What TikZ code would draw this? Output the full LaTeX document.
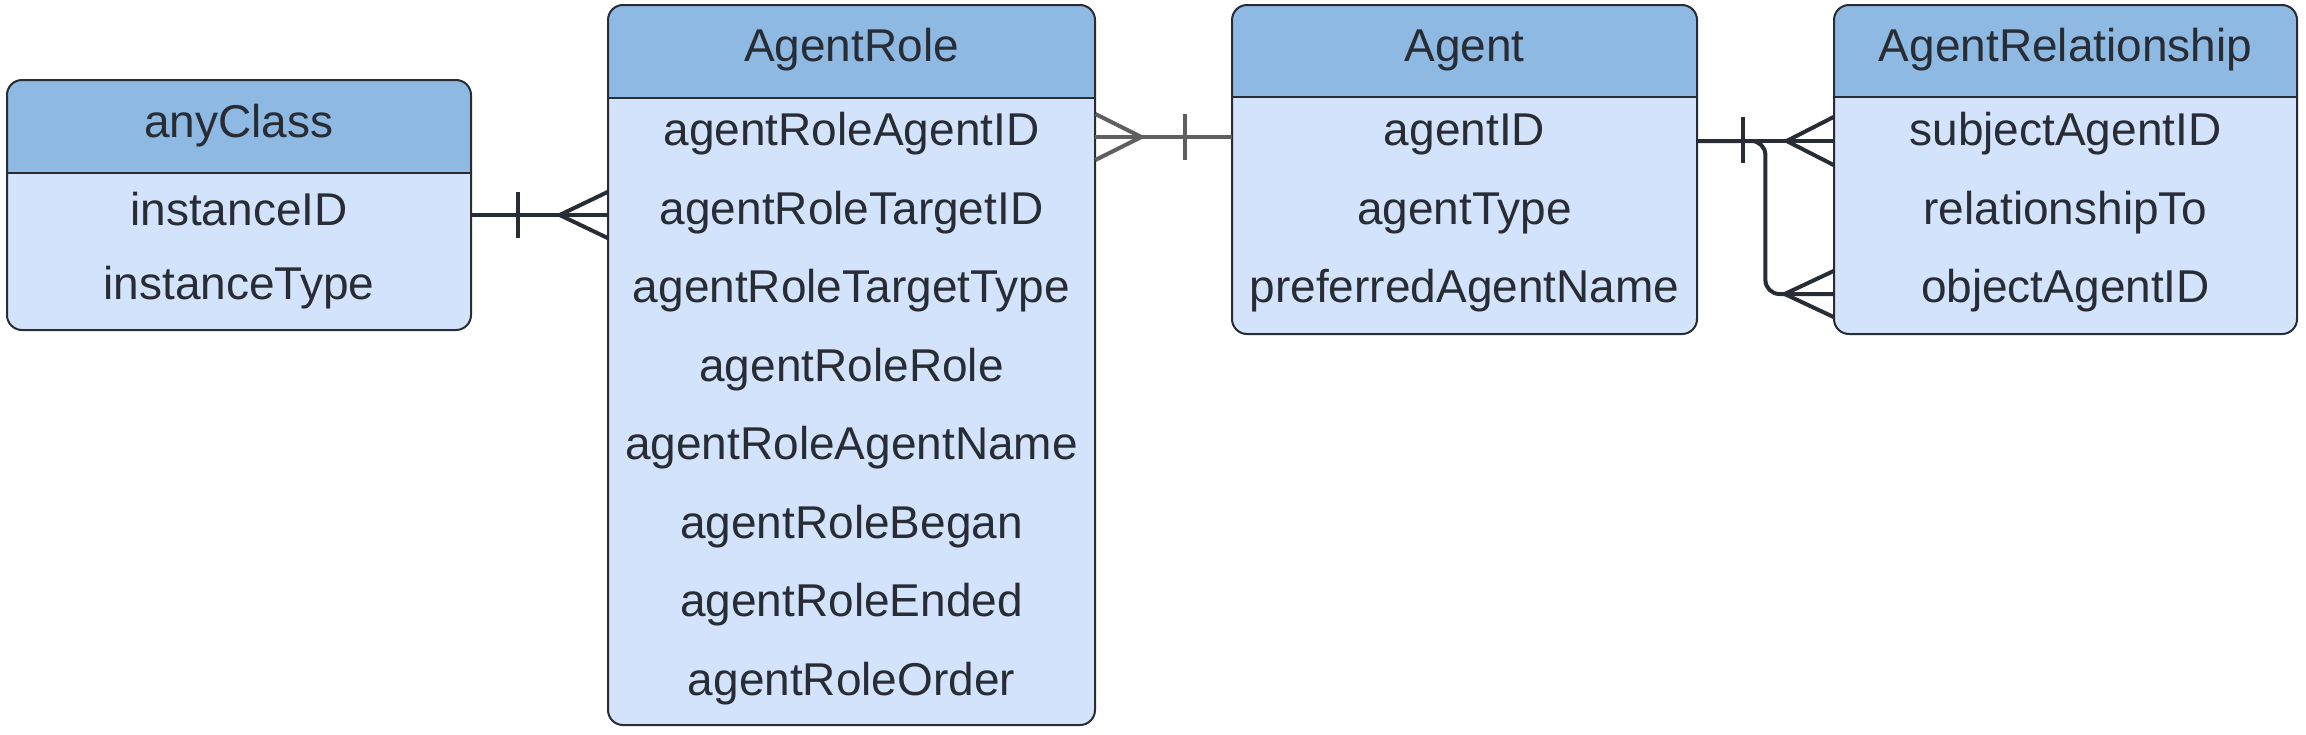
\documentclass[tikz,border=0pt]{standalone}
\usepackage{fontspec}
\setmainfont{Liberation Sans}
\usetikzlibrary{fit}
\definecolor{head}{RGB}{142,185,226}
\definecolor{body}{RGB}{210,227,251}
\definecolor{bord}{RGB}{40,44,52}
\definecolor{txt}{RGB}{40,44,52}
\definecolor{gconn}{RGB}{95,95,95}
\tikzset{
  ent/.style={draw=bord, line width=1pt, rounded corners=7.5pt},
  fld/.style={text=txt, font=\fontsize{23}{27}\selectfont, inner sep=0pt},
  conn/.style={line width=2pt, draw=txt},
  gconnst/.style={line width=2pt, draw=gconn},
}
\newcommand\erbox[6]{%
  \fill[body, rounded corners=7.5pt] (#2,#3) rectangle (#4,#5);
  \begin{scope}
    \clip[rounded corners=7.5pt] (#2,#3) rectangle (#4,#5);
    \fill[head] (#2,#3) rectangle (#4,#6);
  \end{scope}
  \draw[draw=bord, line width=1pt] (#2,#6) -- (#4,#6);
  \draw[ent] (#2,#3) rectangle (#4,#5);
  \node[fit={(#2,#3) (#4,#5)}, inner sep=0pt] (#1) {};
}
\begin{document}
\begin{tikzpicture}[x=0.5pt, y=-0.5pt]
\useasboundingbox (0,0) rectangle (2306,734);

% anyClass
\erbox{ac}{7}{80}{471}{330}{173}
\node[fld] (ach) at (239,126) {anyClass};
\node[fld] (ac1) at (239,209) {instanceID};
\node[fld] (ac2) at (239,288) {instanceType};

% AgentRole
\erbox{ar}{608}{5}{1095}{725}{98}
\node[fld] (arh) at (851.5,50) {AgentRole};
\node[fld] (ar1) at (851.5,134) {agentRoleAgentID};
\node[fld] (ar2) at (851.5,212.5) {agentRoleTargetID};
\node[fld] (ar3) at (851.5,291) {agentRoleTargetType};
\node[fld] (ar4) at (851.5,369.5) {agentRoleRole};
\node[fld] (ar5) at (851.5,448) {agentRoleAgentName};
\node[fld] (ar6) at (851.5,526.5) {agentRoleBegan};
\node[fld] (ar7) at (851.5,605) {agentRoleEnded};
\node[fld] (ar8) at (851.5,683.5) {agentRoleOrder};

% Agent
\erbox{ag}{1232}{5}{1697}{334}{97}
\node[fld] (agh) at (1464.5,50) {Agent};
\node[fld] (ag1) at (1464.5,134) {agentID};
\node[fld] (ag2) at (1464.5,213) {agentType};
\node[fld] (ag3) at (1464.5,291) {preferredAgentName};

% AgentRelationship
\erbox{rel}{1834}{5}{2297}{334}{97}
\node[fld] (relh) at (2065.5,50) {AgentRelationship};
\node[fld] (rel1) at (2065.5,134) {subjectAgentID};
\node[fld] (rel2) at (2065.5,213) {relationshipTo};
\node[fld] (rel3) at (2065.5,291) {objectAgentID};

% anyClass -- AgentRole (one to many)
\coordinate (c1a) at (ac.east |- 0,215);
\coordinate (c1b) at (ar.west |- 0,215);
\draw[conn] (c1a) -- (c1b);
\draw[conn] ([shift={(47,0)}]c1a |- 0,192) -- ([shift={(47,0)}]c1a |- 0,238);
\draw[conn] ([shift={(0,-23)}]c1b) -- ([shift={(-48,0)}]c1b) -- ([shift={(0,23)}]c1b);

% AgentRole -- Agent (many to one)
\coordinate (c2a) at (ar.east |- 0,137);
\coordinate (c2b) at (ag.west |- 0,137);
\draw[gconnst] (c2a) -- (c2b);
\draw[gconnst] ([shift={(-47,0)}]c2b |- 0,114) -- ([shift={(-47,0)}]c2b |- 0,160);
\draw[gconnst] ([shift={(0,-23)}]c2a) -- ([shift={(46,0)}]c2a) -- ([shift={(0,23)}]c2a);

% Agent -- AgentRelationship (one to many, twice)
\coordinate (c3a) at (ag.east |- 0,141);
\coordinate (c3b) at (rel.west |- 0,141);
\coordinate (c3c) at (rel.west |- 0,294);
\draw[conn] (c3a) -- (c3b);
\draw[conn, rounded corners=7pt] (c3a) -- ([shift={(68,0)}]c3a) -- ([shift={(68,0)}]c3a |- c3c) -- (c3c);
\draw[conn] ([shift={(46,0)}]c3a |- 0,117) -- ([shift={(46,0)}]c3a |- 0,163);
\draw[conn] ([shift={(0,-24)}]c3b) -- ([shift={(-47,0)}]c3b) -- ([shift={(0,24)}]c3b);
\draw[conn] ([shift={(0,-23)}]c3c) -- ([shift={(-49,0)}]c3c) -- ([shift={(0,23)}]c3c);
\end{tikzpicture}
\end{document}
